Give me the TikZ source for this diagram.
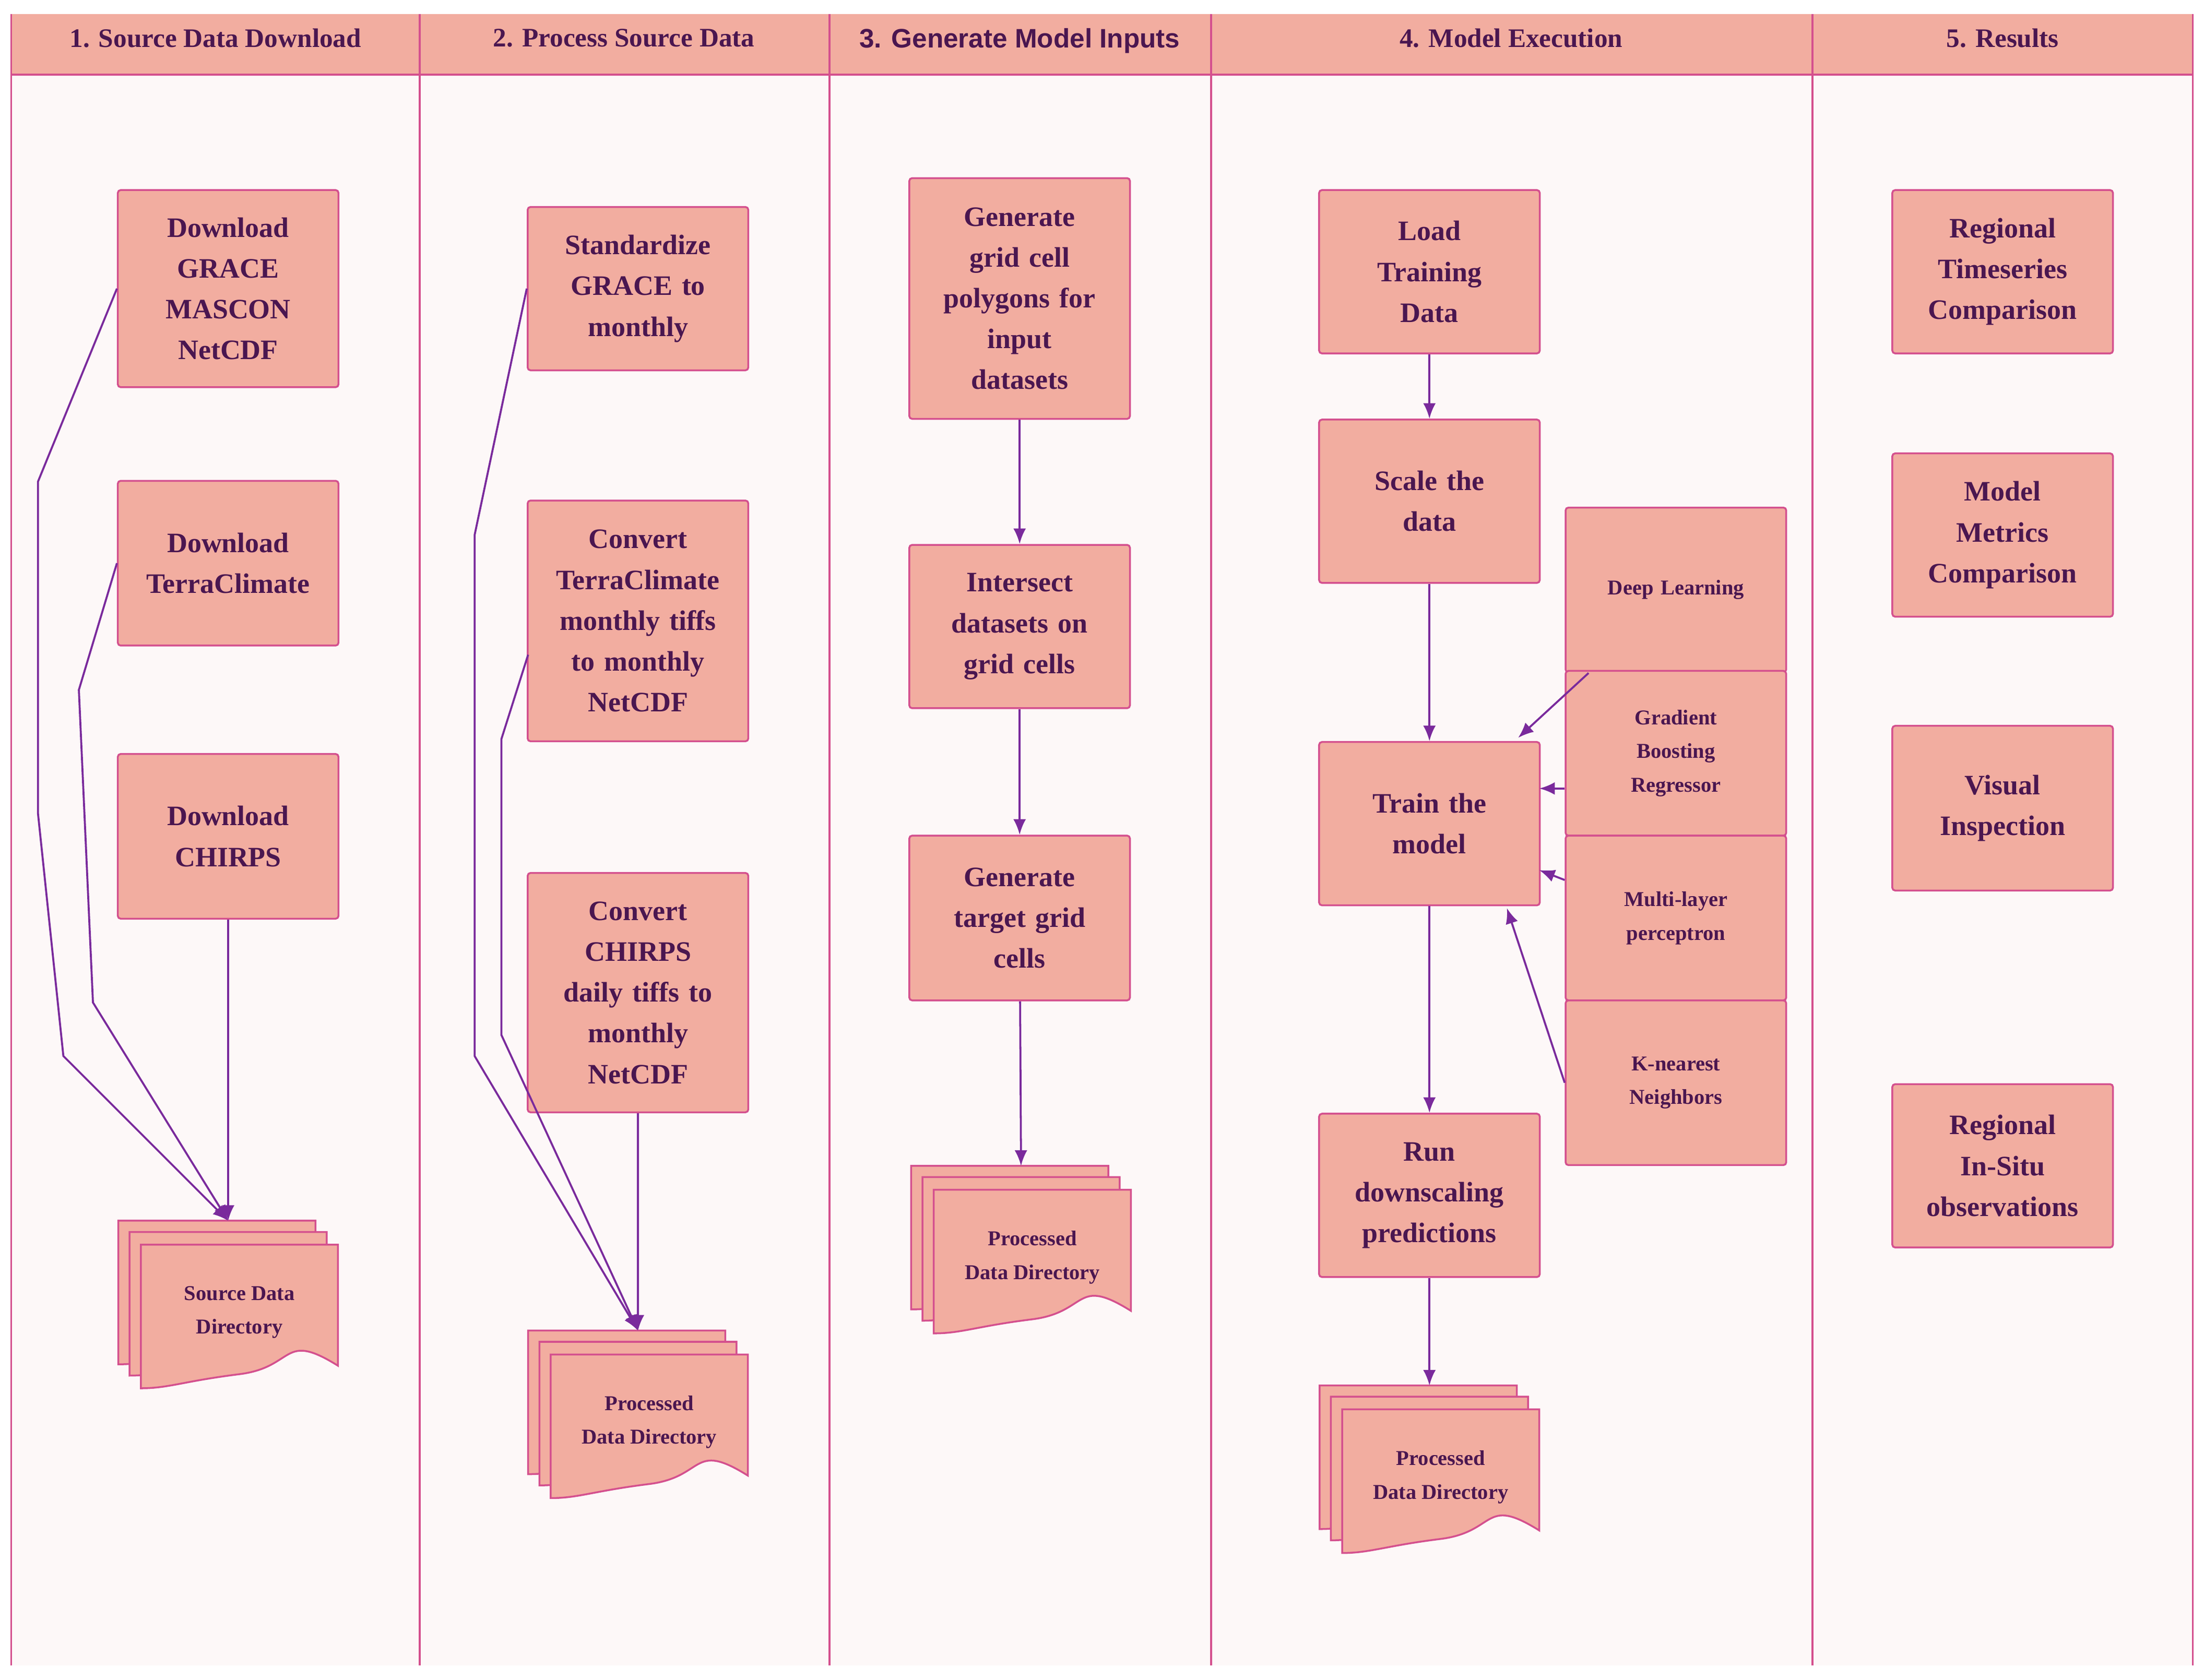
\documentclass[tikz,border=0pt]{standalone}
\usepackage{fontspec}
\setmainfont{Liberation Serif}
\newfontfamily\hsans{Liberation Sans}
\usetikzlibrary{arrows.meta}
\definecolor{salmon}{HTML}{F2ADA0}
\definecolor{edge}{HTML}{D4508E}
\definecolor{arr}{HTML}{7A2A9C}
\definecolor{txt}{HTML}{4A1650}
\definecolor{bg}{HTML}{FDF8F8}
\tikzset{
 box/.style={draw=edge,fill=salmon,line width=1.3pt,rounded corners=2pt,minimum width=156pt,text width=150pt,align=center,text=txt,font=\fontsize{20}{29}\selectfont\bfseries},
 sbox/.style={box,font=\fontsize{15}{24}\selectfont\bfseries},
 hdr/.style={text=txt,font=\fontsize{19}{22}\selectfont\bfseries},
 con/.style={draw=arr,line width=1.4pt,-{Latex[length=11pt,width=9pt]}},
 doc/.style={draw=edge,fill=salmon,line width=1.3pt},
}
\newcommand{\onedoc}[2]{\path[doc] (#1,#2) -- ++(140,0) -- ++(0,86) .. controls +(-40,-25) and +(40,-5) .. ++(-70,6) .. controls +(-40,5) and +(20,0) .. ++(-70,10) -- cycle;}
\newcommand{\docstack}[4]{% left top name text
 \onedoc{#1}{#2}\onedoc{#1+8}{#2+8}\onedoc{#1+16}{#2+17}
 \node[text=txt,font=\fontsize{15}{24}\selectfont\bfseries,align=center] (#3) at (#1+86,#2+65) {#4};
 \coordinate (#3t) at (#1+78,#2);}
\begin{document}
\begin{tikzpicture}[x=1pt,y=-1pt]
\useasboundingbox (0,0) rectangle (1565,1193);
\fill[white] (0,0) rectangle (1565,1193);
\fill[bg] (8,10) rectangle (1557,1183);
\fill[salmon] (8,10) rectangle (1557,53);
\draw[edge,line width=1.3pt] (8,53) -- (1557,53);
\foreach \x in {8,298,589,860,1287,1557} \draw[edge,line width=1.3pt] (\x,10) -- (\x,1183);
\node[hdr] (h1) at (153,27) {1. Source Data Download};
\node[hdr] (h2) at (443,27) {2. Process Source Data};
\node[hdr,font=\hsans\fontsize{19}{22}\selectfont\bfseries] (h3) at (724,29) {3. Generate Model Inputs};
\node[hdr] (h4) at (1073,27) {4. Model Execution};
\node[hdr] (h5) at (1422,27) {5. Results};
% lane 1
\node[box,minimum height=140pt] (g) at (162,205) {Download\\GRACE\\MASCON\\NetCDF};
\node[box,minimum height=117pt] (tc) at (162,400) {Download\\TerraClimate};
\node[box,minimum height=117pt] (ch) at (162,594) {Download\\CHIRPS};
\docstack{84}{867}{d1}{Source Data\\Directory}
\draw[con] (g.west) -- (27,342) -- (27,578) -- (45,750) -- (d1t);
\draw[con] (tc.west) -- (56,490) -- (66,712) -- (d1t);
\draw[con] (ch.south) -- (d1t);
% lane 2
\node[box,minimum height=116pt] (st) at (453,205) {Standardize\\GRACE to\\monthly};
\node[box,minimum height=171pt] (ctc) at (453,441) {Convert\\TerraClimate\\monthly tiffs\\to monthly\\NetCDF};
\node[box,minimum height=170pt] (cch) at (453,705) {Convert\\CHIRPS\\daily tiffs to\\monthly\\NetCDF};
\docstack{375}{945}{d2}{Processed\\Data Directory}
\draw[con] (st.west) -- (337,380) -- (337,750) -- (d2t);
\draw[con] (375,465) -- (356,525) -- (356,735) -- (d2t);
\draw[con] (cch.south) -- (d2t);
% lane 3
\node[box,minimum height=171pt] (gg) at (724,212) {Generate\\grid cell\\polygons for\\input\\datasets};
\node[box,minimum height=116pt] (is) at (724,445) {Intersect\\datasets on\\grid cells};
\node[box,minimum height=117pt] (gt) at (724,652) {Generate\\target grid\\cells};
\docstack{647}{828}{d3}{Processed\\Data Directory}
\draw[con] (gg) -- (is);
\draw[con] (is) -- (gt);
\draw[con] (gt) -- (d3t);
% lane 4
\node[box,minimum height=116pt] (lo) at (1015,193) {Load\\Training\\Data};
\node[box,minimum height=116pt] (sc) at (1015,356) {Scale the\\data};
\node[box,minimum height=116pt] (tr) at (1015,585) {Train the\\model};
\node[box,minimum height=116pt] (ru) at (1015,849) {Run\\downscaling\\predictions};
\node[sbox,minimum height=117pt] (dl) at (1190,419) {Deep Learning};
\node[sbox,minimum height=117pt] (gb) at (1190,535) {Gradient\\Boosting\\Regressor};
\node[sbox,minimum height=117pt] (ml) at (1190,652) {Multi-layer\\perceptron};
\node[sbox,minimum height=117pt] (kn) at (1190,769) {K-nearest\\Neighbors};
\docstack{937}{984}{d4}{Processed\\Data Directory}
\draw[con] (lo) -- (sc);
\draw[con] (sc) -- (tr);
\draw[con] (tr) -- (ru);
\draw[con] (ru) -- (d4t);
\draw[con] (1128,478) -- (1078,524);
\draw[con] (gb.west|-0,560) -- (1093,560);
\draw[con] (ml.west|-0,625) -- (1093,618);
\draw[con] (kn.west) -- (1070,645);
% lane 5
\node[box,minimum height=116pt] (r1) at (1422,193) {Regional\\Timeseries\\Comparison};
\node[box,minimum height=116pt] (r2) at (1422,380) {Model\\Metrics\\Comparison};
\node[box,minimum height=117pt] (r3) at (1422,574) {Visual\\Inspection};
\node[box,minimum height=116pt] (r4) at (1422,828) {Regional\\In-Situ\\observations};
\end{tikzpicture}
\end{document}
